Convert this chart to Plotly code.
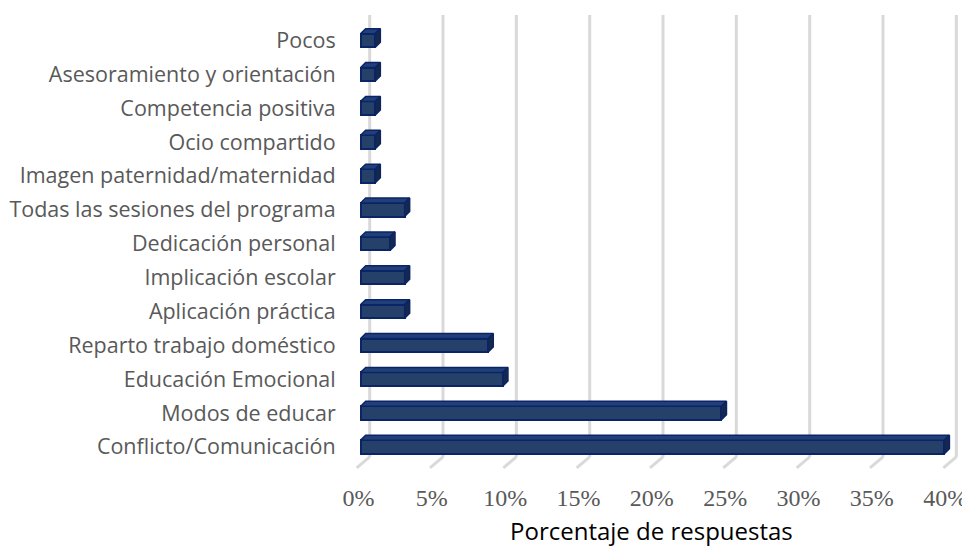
import plotly.graph_objects as go

# ---- data (top to bottom as shown) ----
categories = [
    "Pocos",
    "Asesoramiento y orientación",
    "Competencia positiva",
    "Ocio compartido",
    "Imagen paternidad/maternidad",
    "Todas las sesiones del programa",
    "Dedicación personal",
    "Implicación escolar",
    "Aplicación práctica",
    "Reparto trabajo doméstico",
    "Educación Emocional",
    "Modos de educar",
    "Conflicto/Comunicación",
]
values = [1, 1, 1, 1, 1, 3, 2, 3, 3, 8.7, 9.7, 24.6, 39.8]
tick_values = [0, 5, 10, 15, 20, 25, 30, 35, 40]
tick_labels = ["0%", "5%", "10%", "15%", "20%", "25%", "30%", "35%", "40%"]
x_title = "Porcentaje de respuestas"

# ---- styling / geometry (page body adds an 8px offset) ----
W, H = 962, 540
PX = 14.65          # px per percent unit
PY = 33.9           # px per category
X0PX = 353          # pixel of x=0 (figure coords)
Y0PX = 439          # pixel of bottom category centre (figure coords)
XR = [-1.0, 41.0]
YR = [-0.8, 12.75]
L = X0PX + XR[0] * PX
R = X0PX + XR[1] * PX
T = Y0PX - YR[1] * PY
B = Y0PX - YR[0] * PY
TITLE_X_PX = 644
TITLE_BOTTOM_PX = 540

FRONT = "#264169"
TOP = "#21407a"
SIDE = "#16294a"
EDGE = "#0a2466"
GRID = "#d9d9d9"

half_h = 0.2
dx = 5 / PX
dy = 5 / PY
back_dx = 9 / PX
floor_back_y = -10 / PY
floor_front_y = -21 / PY
floor_front_dx = -4 / PX

# plot order bottom -> top
cats = categories[::-1]
vals = values[::-1]
ypos = list(range(len(cats)))

fig = go.Figure()

# front faces
fig.add_trace(go.Bar(
    x=vals, y=ypos, orientation="h", width=2 * half_h, base=0,
    marker=dict(color=FRONT, line=dict(color=EDGE, width=2)),
    hoverinfo="skip", showlegend=False,
))

# top faces and side faces built from data
tx, ty, sx, sy = [], [], [], []
for v, y in zip(vals, ypos):
    tx += [0, v, v + dx, dx, 0, None]
    ty += [y + half_h, y + half_h, y + half_h + dy, y + half_h + dy, y + half_h, None]
    sx += [v, v + dx, v + dx, v, v, None]
    sy += [y - half_h, y - half_h + dy, y + half_h + dy, y + half_h, y - half_h, None]

fig.add_trace(go.Scatter(x=tx, y=ty, mode="lines", fill="toself", fillcolor=TOP,
                         line=dict(color=EDGE, width=1.5), hoverinfo="skip",
                         showlegend=False))
fig.add_trace(go.Scatter(x=sx, y=sy, mode="lines", fill="toself", fillcolor=SIDE,
                         line=dict(color=EDGE, width=1.5), hoverinfo="skip",
                         showlegend=False))

# back-wall gridlines with floor diagonals
for t in tick_values:
    fig.add_shape(type="line", xref="x", yref="y", layer="below",
                  x0=t + back_dx, x1=t + back_dx, y0=floor_back_y, y1=YR[1],
                  line=dict(color=GRID, width=3))
    fig.add_shape(type="line", xref="x", yref="y", layer="below",
                  x0=t + back_dx, x1=t + floor_front_dx, y0=floor_back_y, y1=floor_front_y,
                  line=dict(color=GRID, width=3))

# axis title as annotation (so it can sit close to the bottom edge)
fig.add_annotation(
    text=x_title, xref="paper", yref="paper",
    x=(TITLE_X_PX - L) / (R - L), y=(B - TITLE_BOTTOM_PX) / (B - T),
    xanchor="center", yanchor="bottom", showarrow=False, borderpad=0,
    font=dict(family="Open Sans", size=24, color="#000000"),
)

fig.update_layout(
    width=W, height=H,
    margin=dict(l=L, r=W - R, t=T, b=H - B, pad=0),
    paper_bgcolor="white", plot_bgcolor="white",
    bargap=0,
    xaxis=dict(
        range=XR, showgrid=False, zeroline=False, showline=False,
        automargin=False,
        tickmode="array", tickvals=[t - 0.15 for t in tick_values], ticktext=tick_labels,
        ticks="outside", ticklen=2, tickcolor="rgba(0,0,0,0)",
        tickfont=dict(family="Liberation Serif", size=24, color="#595959"),
        fixedrange=True,
    ),
    yaxis=dict(
        range=YR, showgrid=False, zeroline=False, showline=False,
        automargin=False,
        tickmode="array", tickvals=ypos, ticktext=cats,
        ticks="outside", ticklen=5, tickcolor="rgba(0,0,0,0)",
        tickfont=dict(family="Open Sans", size=21.5, color="#595959"),
        fixedrange=True,
    ),
)

fig.write_html("out.html")
